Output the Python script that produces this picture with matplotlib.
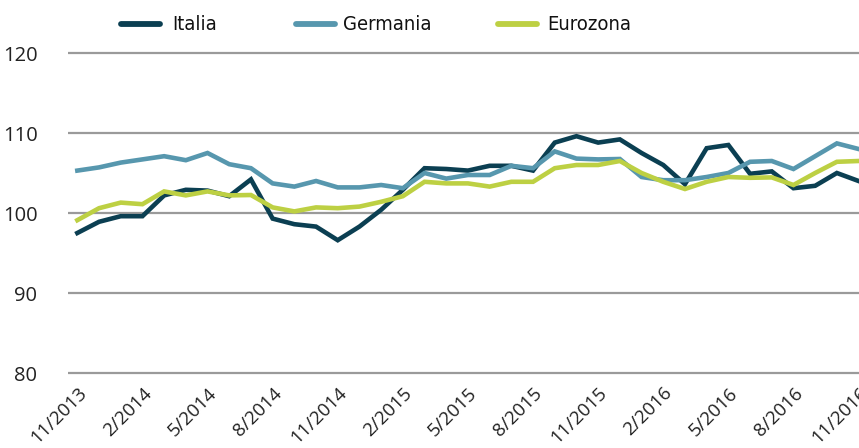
import matplotlib
matplotlib.use("Agg")
import matplotlib.pyplot as plt
from matplotlib.lines import Line2D

months = ["11/2013","12/2013","1/2014","2/2014","3/2014","4/2014","5/2014","6/2014","7/2014","8/2014",
          "9/2014","10/2014","11/2014","12/2014","1/2015","2/2015","3/2015","4/2015","5/2015","6/2015",
          "7/2015","8/2015","9/2015","10/2015","11/2015","12/2015","1/2016","2/2016","3/2016","4/2016",
          "5/2016","6/2016","7/2016","8/2016","9/2016","10/2016","11/2016"]

italia = [97.5, 98.9, 99.6, 99.6, 102.2, 102.9, 102.8, 102.1, 104.2, 99.3,
          98.6, 98.3, 96.6, 98.3, 100.4, 102.9, 105.6, 105.5, 105.3, 105.9,
          105.9, 105.3, 108.8, 109.6, 108.8, 109.2, 107.5, 106.0, 103.6, 108.1,
          108.5, 104.9, 105.2, 103.1, 103.4, 105.0, 104.0]
germania = [105.3, 105.7, 106.3, 106.7, 107.1, 106.6, 107.5, 106.1, 105.6, 103.7,
            103.3, 104.0, 103.2, 103.2, 103.5, 103.1, 105.0, 104.3, 104.75, 104.75,
            105.9, 105.6, 107.7, 106.8, 106.7, 106.75, 104.5, 104.1, 104.1, 104.5,
            105.0, 106.4, 106.5, 105.5, 107.1, 108.7, 108.0]
eurozona = [99.1, 100.6, 101.3, 101.1, 102.7, 102.2, 102.7, 102.2, 102.25, 100.7,
            100.2, 100.7, 100.6, 100.8, 101.4, 102.1, 103.9, 103.7, 103.7, 103.3,
            103.9, 103.9, 105.6, 106.0, 106.0, 106.5, 105.0, 103.9, 103.0, 103.9,
            104.5, 104.4, 104.45, 103.5, 105.0, 106.4, 106.5]

series_names = ["Italia", "Germania", "Eurozona"]
colors = ["#0b3f52", "#5797ae", "#bdd043"]
yticks = [80, 90, 100, 110, 120]

W, H = 859, 448
fig = plt.figure(figsize=(W / 100, H / 100), dpi=100)
ax = fig.add_axes([68 / W, 1 - 377 / H, 1 - 68 / W, (377 - 49) / H])
x = list(range(len(months)))
for vals, c in zip([italia, germania, eurozona], colors):
    ax.plot(x, vals, color=c, lw=3.3, solid_joinstyle="miter", zorder=3)

tick_font = ["Open Sans", "DejaVu Sans"]
ax.set_xlim(-0.43, 36.02)
ax.set_ylim(79.5, 120.5)
ax.set_yticks(yticks)
ax.set_yticklabels([str(v) for v in yticks], fontsize=14.5, family=tick_font, color="#222222")
ax.yaxis.grid(True, color="#9a9a9a", lw=1.6)
ax.set_axisbelow(True)
ax.tick_params(axis="y", length=0, pad=22)
ax.tick_params(axis="x", length=0, pad=5)
for s in ax.spines.values():
    s.set_visible(False)

tick_idx = list(range(0, len(months), 3))
ax.set_xticks(tick_idx)
ax.set_xticklabels([months[i] for i in tick_idx], rotation=45, ha="right", va="top",
                   rotation_mode="anchor", fontsize=13.5, family=tick_font, color="#222222")

# manual legend (figure-pixel layout)
leg_y = 1 - 24 / H
handle_px = [(121, 160), (296, 335), (498, 537)]
text_px = [172, 343, 547]
for (x0, x1), tx, name, c in zip(handle_px, text_px, series_names, colors):
    fig.add_artist(Line2D([x0 / W, x1 / W], [leg_y, leg_y], transform=fig.transFigure,
                          color=c, lw=4.2, solid_capstyle="round"))
    fig.text(tx / W, leg_y, name, ha="left", va="center", fontsize=14.5,
             family=["DejaVu Sans"], fontstretch="condensed", color="#111111")

fig.savefig("out.png", dpi=100)
